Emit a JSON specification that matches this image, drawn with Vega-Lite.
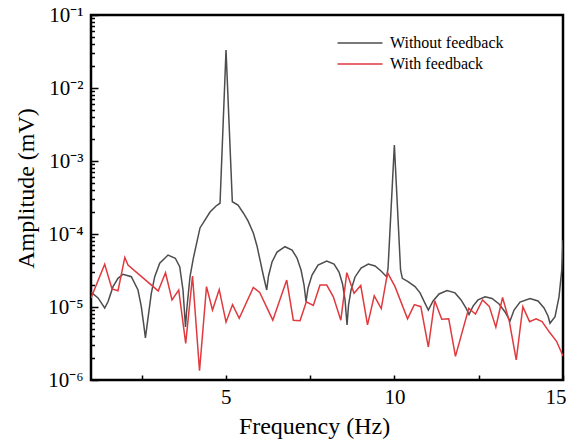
{
  "$schema": "https://vega.github.io/schema/vega-lite/v6.json",
  "width": 472,
  "height": 365,
  "autosize": {"type": "none"},
  "padding": {"left": 91, "top": 15, "right": 3, "bottom": 59},
  "background": "white",
  "config": {
    "view": {"stroke": "black", "strokeWidth": 2.5},
    "font": "Liberation Serif",
    "axis": {"labelFont": "Liberation Serif", "titleFont": "Liberation Serif", "zindex": 1},
    "legend": {"labelFont": "Liberation Serif"}
  },
  "data": {"values": [
    {"series":"Without feedback","freq":1.000,"amp":1.60e-5},{"series":"Without feedback","freq":1.208,"amp":1.33e-5},{"series":"Without feedback","freq":1.406,"amp":9.68e-6},{"series":"Without feedback","freq":1.504,"amp":1.18e-5},{"series":"Without feedback","freq":1.653,"amp":1.90e-5},{"series":"Without feedback","freq":1.801,"amp":2.47e-5},{"series":"Without feedback","freq":1.949,"amp":2.81e-5},{"series":"Without feedback","freq":2.196,"amp":2.60e-5},{"series":"Without feedback","freq":2.394,"amp":1.71e-5},{"series":"Without feedback","freq":2.492,"amp":1.01e-5},{"series":"Without feedback","freq":2.572,"amp":5.37e-6},{"series":"Without feedback","freq":2.614,"amp":3.76e-6},{"series":"Without feedback","freq":2.670,"amp":5.98e-6},{"series":"Without feedback","freq":2.789,"amp":1.54e-5},{"series":"Without feedback","freq":2.890,"amp":2.60e-5},{"series":"Without feedback","freq":3.038,"amp":3.97e-5},{"series":"Without feedback","freq":3.284,"amp":5.15e-5},{"series":"Without feedback","freq":3.501,"amp":4.65e-5},{"series":"Without feedback","freq":3.631,"amp":3.56e-5},{"series":"Without feedback","freq":3.729,"amp":1.71e-5},{"series":"Without feedback","freq":3.803,"amp":5.32e-6},{"series":"Without feedback","freq":3.839,"amp":9.10e-6},{"series":"Without feedback","freq":3.937,"amp":2.60e-5},{"series":"Without feedback","freq":4.035,"amp":4.65e-5},{"series":"Without feedback","freq":4.233,"amp":1.21e-4},{"series":"Without feedback","freq":4.530,"amp":2.00e-4},{"series":"Without feedback","freq":4.708,"amp":2.42e-4},{"series":"Without feedback","freq":4.827,"amp":2.64e-4},{"series":"Without feedback","freq":5.005,"amp":3.32e-2},{"series":"Without feedback","freq":5.192,"amp":2.77e-4},{"series":"Without feedback","freq":5.361,"amp":2.49e-4},{"series":"Without feedback","freq":5.518,"amp":1.94e-4},{"series":"Without feedback","freq":5.657,"amp":1.51e-4},{"series":"Without feedback","freq":5.815,"amp":1.03e-4},{"series":"Without feedback","freq":5.924,"amp":6.86e-5},{"series":"Without feedback","freq":6.013,"amp":4.41e-5},{"series":"Without feedback","freq":6.102,"amp":2.83e-5},{"series":"Without feedback","freq":6.212,"amp":1.71e-5},{"series":"Without feedback","freq":6.265,"amp":2.66e-5},{"series":"Without feedback","freq":6.369,"amp":4.13e-5},{"series":"Without feedback","freq":6.518,"amp":5.66e-5},{"series":"Without feedback","freq":6.755,"amp":6.70e-5},{"series":"Without feedback","freq":6.963,"amp":6.04e-5},{"series":"Without feedback","freq":7.111,"amp":4.69e-5},{"series":"Without feedback","freq":7.230,"amp":3.21e-5},{"series":"Without feedback","freq":7.319,"amp":2.00e-5},{"series":"Without feedback","freq":7.378,"amp":1.18e-5},{"series":"Without feedback","freq":7.438,"amp":1.82e-5},{"series":"Without feedback","freq":7.556,"amp":2.74e-5},{"series":"Without feedback","freq":7.734,"amp":3.76e-5},{"series":"Without feedback","freq":7.992,"amp":4.27e-5},{"series":"Without feedback","freq":8.209,"amp":3.88e-5},{"series":"Without feedback","freq":8.357,"amp":3.01e-5},{"series":"Without feedback","freq":8.461,"amp":2.07e-5},{"series":"Without feedback","freq":8.535,"amp":1.25e-5},{"series":"Without feedback","freq":8.594,"amp":5.66e-6},{"series":"Without feedback","freq":8.639,"amp":1.06e-5},{"series":"Without feedback","freq":8.713,"amp":1.71e-5},{"series":"Without feedback","freq":8.832,"amp":2.58e-5},{"series":"Without feedback","freq":9.010,"amp":3.42e-5},{"series":"Without feedback","freq":9.226,"amp":3.88e-5},{"series":"Without feedback","freq":9.425,"amp":3.65e-5},{"series":"Without feedback","freq":9.603,"amp":3.11e-5},{"series":"Without feedback","freq":9.772,"amp":2.58e-5},{"series":"Without feedback","freq":9.811,"amp":3.42e-5},{"series":"Without feedback","freq":9.998,"amp":1.66e-3},{"series":"Without feedback","freq":10.182,"amp":3.21e-5},{"series":"Without feedback","freq":10.235,"amp":2.47e-5},{"series":"Without feedback","freq":10.404,"amp":2.23e-5},{"series":"Without feedback","freq":10.611,"amp":1.90e-5},{"series":"Without feedback","freq":10.760,"amp":1.56e-5},{"series":"Without feedback","freq":10.908,"amp":1.12e-5},{"series":"Without feedback","freq":11.006,"amp":9.10e-6},{"series":"Without feedback","freq":11.146,"amp":1.21e-5},{"series":"Without feedback","freq":11.324,"amp":1.51e-5},{"series":"Without feedback","freq":11.561,"amp":1.68e-5},{"series":"Without feedback","freq":11.798,"amp":1.56e-5},{"series":"Without feedback","freq":11.976,"amp":1.25e-5},{"series":"Without feedback","freq":12.124,"amp":9.68e-6},{"series":"Without feedback","freq":12.213,"amp":7.89e-6},{"series":"Without feedback","freq":12.332,"amp":1.03e-5},{"series":"Without feedback","freq":12.480,"amp":1.25e-5},{"series":"Without feedback","freq":12.688,"amp":1.38e-5},{"series":"Without feedback","freq":12.895,"amp":1.31e-5},{"series":"Without feedback","freq":13.103,"amp":1.10e-5},{"series":"Without feedback","freq":13.281,"amp":8.55e-6},{"series":"Without feedback","freq":13.429,"amp":6.43e-6},{"series":"Without feedback","freq":13.548,"amp":9.10e-6},{"series":"Without feedback","freq":13.726,"amp":1.17e-5},{"series":"Without feedback","freq":14.022,"amp":1.31e-5},{"series":"Without feedback","freq":14.259,"amp":1.21e-5},{"series":"Without feedback","freq":14.437,"amp":9.68e-6},{"series":"Without feedback","freq":14.556,"amp":7.53e-6},{"series":"Without feedback","freq":14.615,"amp":5.98e-6},{"series":"Without feedback","freq":14.764,"amp":7.36e-6},{"series":"Without feedback","freq":14.882,"amp":1.38e-5},{"series":"Without feedback","freq":14.963,"amp":3.21e-5},{"series":"Without feedback","freq":15.000,"amp":8.28e-5},
    {"series":"With feedback","freq":1.000,"amp":1.33e-5},{"series":"With feedback","freq":1.406,"amp":3.85e-5},{"series":"With feedback","freq":1.623,"amp":1.77e-5},{"series":"With feedback","freq":1.801,"amp":1.67e-5},{"series":"With feedback","freq":2.003,"amp":4.77e-5},{"series":"With feedback","freq":2.098,"amp":3.76e-5},{"series":"With feedback","freq":2.993,"amp":1.66e-5},{"series":"With feedback","freq":3.210,"amp":2.95e-5},{"series":"With feedback","freq":3.403,"amp":1.25e-5},{"series":"With feedback","freq":3.602,"amp":1.71e-5},{"series":"With feedback","freq":3.809,"amp":3.18e-6},{"series":"With feedback","freq":4.011,"amp":2.66e-5},{"series":"With feedback","freq":4.219,"amp":1.34e-6},{"series":"With feedback","freq":4.426,"amp":1.90e-5},{"series":"With feedback","freq":4.604,"amp":9.1e-6},{"series":"With feedback","freq":4.803,"amp":1.73e-5},{"series":"With feedback","freq":5.005,"amp":6.2e-6},{"series":"With feedback","freq":5.198,"amp":1.08e-5},{"series":"With feedback","freq":5.396,"amp":7.0e-6},{"series":"With feedback","freq":5.815,"amp":1.85e-5},{"series":"With feedback","freq":6.004,"amp":1.58e-5},{"series":"With feedback","freq":6.393,"amp":6.6e-6},{"series":"With feedback","freq":6.805,"amp":2.34e-5},{"series":"With feedback","freq":7.001,"amp":6.6e-6},{"series":"With feedback","freq":7.200,"amp":6.5e-6},{"series":"With feedback","freq":7.387,"amp":1.18e-5},{"series":"With feedback","freq":7.594,"amp":1.05e-5},{"series":"With feedback","freq":7.793,"amp":2.0e-5},{"series":"With feedback","freq":7.992,"amp":2.0e-5},{"series":"With feedback","freq":8.188,"amp":1.38e-5},{"series":"With feedback","freq":8.410,"amp":6.6e-6},{"series":"With feedback","freq":8.588,"amp":2.95e-5},{"series":"With feedback","freq":8.802,"amp":1.54e-5},{"series":"With feedback","freq":9.001,"amp":1.97e-5},{"series":"With feedback","freq":9.202,"amp":5.7e-6},{"series":"With feedback","freq":9.401,"amp":1.42e-5},{"series":"With feedback","freq":9.609,"amp":9.5e-6},{"series":"With feedback","freq":9.796,"amp":2.95e-5},{"series":"With feedback","freq":10.018,"amp":1.90e-5},{"series":"With feedback","freq":10.389,"amp":6.9e-6},{"series":"With feedback","freq":10.591,"amp":1.08e-5},{"series":"With feedback","freq":10.783,"amp":1.01e-5},{"series":"With feedback","freq":11.006,"amp":2.83e-6},{"series":"With feedback","freq":11.196,"amp":1.22e-5},{"series":"With feedback","freq":11.403,"amp":6.8e-6},{"series":"With feedback","freq":11.611,"amp":6.9e-6},{"series":"With feedback","freq":11.810,"amp":2.11e-6},{"series":"With feedback","freq":12.204,"amp":9.6e-6},{"series":"With feedback","freq":12.403,"amp":8.0e-6},{"series":"With feedback","freq":12.614,"amp":1.25e-5},{"series":"With feedback","freq":12.813,"amp":1.02e-5},{"series":"With feedback","freq":13.008,"amp":5.3e-6},{"series":"With feedback","freq":13.207,"amp":1.35e-5},{"series":"With feedback","freq":13.406,"amp":6.4e-6},{"series":"With feedback","freq":13.613,"amp":1.88e-6},{"series":"With feedback","freq":13.809,"amp":1.01e-5},{"series":"With feedback","freq":14.008,"amp":6.3e-6},{"series":"With feedback","freq":14.201,"amp":6.9e-6},{"series":"With feedback","freq":14.379,"amp":6.3e-6},{"series":"With feedback","freq":14.601,"amp":4.5e-6},{"series":"With feedback","freq":14.809,"amp":3.39e-6},{"series":"With feedback","freq":15.000,"amp":2.13e-6}
  ]},
  "mark": {"type": "line", "strokeWidth": 1.5, "clip": true},
  "encoding": {
    "x": {
      "field": "freq", "type": "quantitative",
      "scale": {"domain": [1, 15], "nice": false, "zero": false},
      "axis": {
        "title": "Frequency (Hz)",
        "values": [2.5, 5, 7.5, 10, 12.5, 15],
        "labelExpr": "datum.value % 5 == 0 ? datum.label : ''",
        "ticks": true, "tickSize": -5, "tickColor": "black", "tickWidth": 1.5,
        "domain": false, "grid": false, "zindex": 1,
        "labelFont": "Liberation Serif", "labelFontSize": 21, "labelColor": "black", "labelPadding": 11,
        "labelFlush": true, "labelFlushOffset": 3, "labelOverlap": false,
        "titleFont": "Liberation Serif", "titleFontSize": 24, "titleFontWeight": "normal", "titleColor": "black",
        "titleX": 223, "titleY": 53, "titleAlign": "center", "titleBaseline": "alphabetic"
      }
    },
    "y": {
      "field": "amp", "type": "quantitative",
      "scale": {"type": "log", "domain": [1e-6, 0.1], "nice": false},
      "axis": {
        "title": "Amplitude (mV)",
        "values": [1e-6,2e-6,3e-6,4e-6,5e-6,6e-6,7e-6,8e-6,9e-6,1e-5,2e-5,3e-5,4e-5,5e-5,6e-5,7e-5,8e-5,9e-5,1e-4,2e-4,3e-4,4e-4,5e-4,6e-4,7e-4,8e-4,9e-4,1e-3,2e-3,3e-3,4e-3,5e-3,6e-3,7e-3,8e-3,9e-3,1e-2,2e-2,3e-2,4e-2,5e-2,6e-2,7e-2,8e-2,9e-2,1e-1],
        "labelExpr": "abs(log(datum.value)/LN10 - round(log(datum.value)/LN10)) < 0.001 ? '10' + ['⁰','⁻¹','⁻²','⁻³','⁻⁴','⁻⁵','⁻⁶'][-round(log(datum.value)/LN10)] : ''",
        "ticks": true,
        "tickSize": {"condition": {"test": "abs(log(datum.value)/LN10 - round(log(datum.value)/LN10)) < 0.001", "value": -7}, "value": -3.5},
        "tickColor": "black", "tickWidth": 1.5,
        "domain": false, "grid": false, "zindex": 1,
        "labelFont": "Liberation Serif", "labelFontSize": 21, "labelColor": "black", "labelPadding": 15,
        "labelOverlap": false, "labelFlush": false,
        "titleFont": "Liberation Serif", "titleFontSize": 24, "titleFontWeight": "normal", "titleColor": "black",
        "titleX": -58, "titleY": 173, "titleAlign": "center", "titleBaseline": "alphabetic"
      }
    },
    "color": {
      "field": "series", "type": "nominal",
      "scale": {"domain": ["Without feedback", "With feedback"], "range": ["#4d4d4d", "#e0393e"]},
      "legend": {
        "title": null, "orient": "none", "legendX": 261, "legendY": 20,
        "symbolType": "M-5,0H5", "symbolSize": 81, "symbolStrokeWidth": 1.5,
        "labelFont": "Liberation Serif", "labelFontSize": 16, "labelColor": "black", "labelOffset": 22,
        "rowPadding": 5
      }
    }
  }
}
